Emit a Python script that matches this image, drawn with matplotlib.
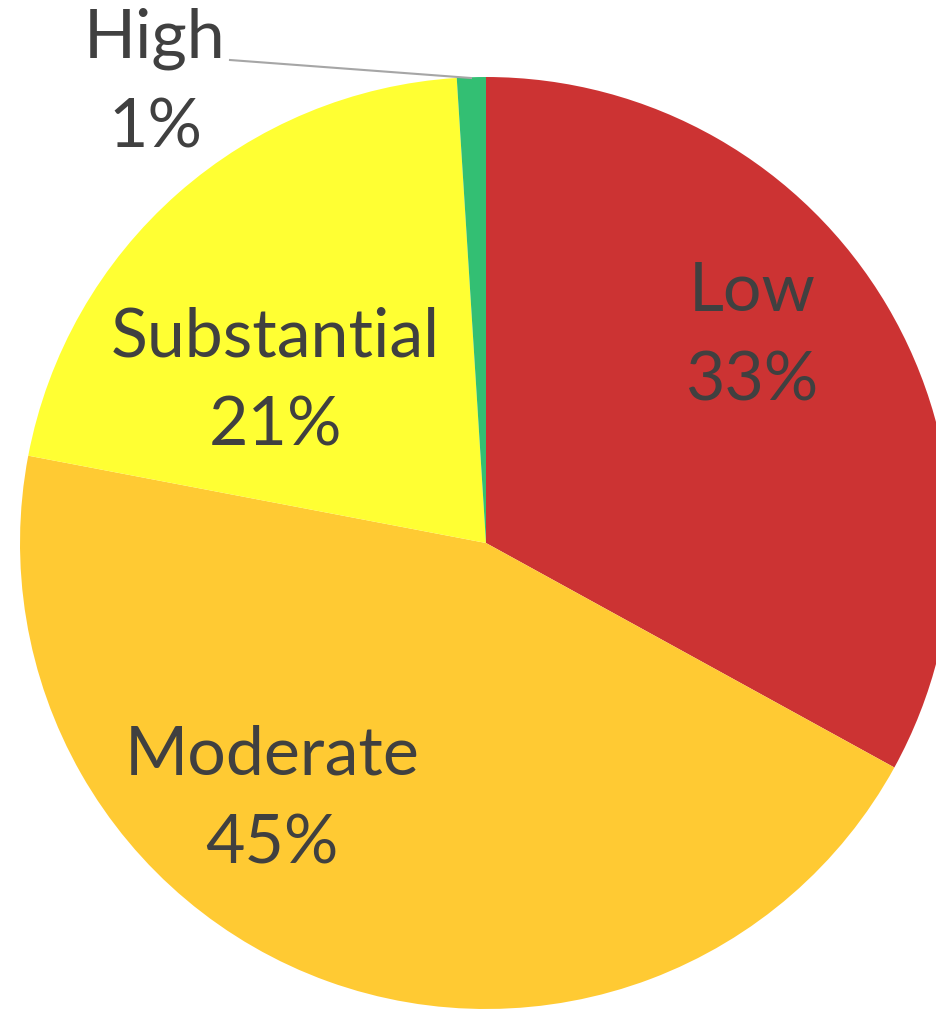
import matplotlib
matplotlib.use("Agg")
import matplotlib.pyplot as plt

categories = ["Low", "Moderate", "Substantial", "High"]
values = [33, 45, 21, 1]
colors = ["#CC3333", "#FFCA33", "#FFFF33", "#33BF73"]

W, H = 936, 1009
fig = plt.figure(figsize=(W / 100, H / 100), dpi=100)
ax = fig.add_axes([0, 0, 1, 1])

cx, cy, r = 486, H - 543, 466
ax.pie(values, colors=colors, startangle=90, counterclock=False,
       center=(cx, cy), radius=r, frame=True,
       wedgeprops=dict(linewidth=0))
ax.set_xlim(0, W)
ax.set_ylim(0, H)
ax.set_aspect("equal")
ax.axis("off")

txt = dict(fontfamily="Lato", fontsize=49, color="#404040",
           ha="center", va="center", linespacing=1.55)
label_pos = {"Low": (752, 337), "Moderate": (272, 800),
             "Substantial": (275, 382), "High": (155, 84)}
for c, v in zip(categories, values):
    x, y = label_pos[c]
    ax.text(x, H - y, f"{c}\n{v}%", **txt)

ax.plot([230, 471], [H - 60, H - 78], color="#A6A6A6", lw=1.5)

fig.savefig("out.png", dpi=100)
